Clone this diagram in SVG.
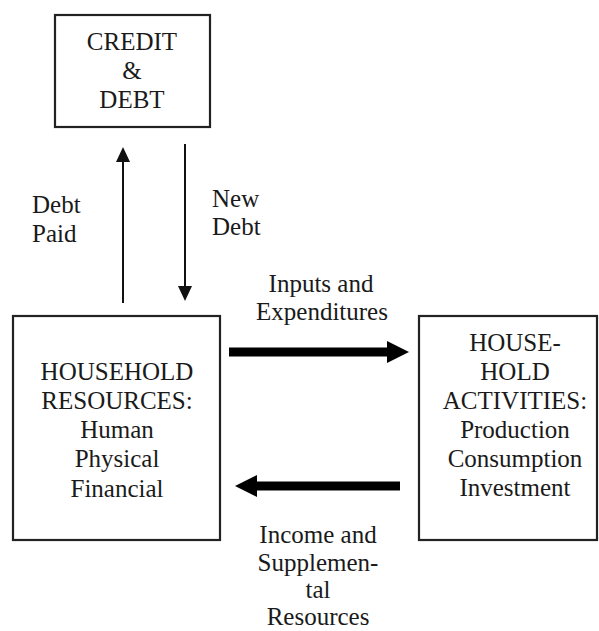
<svg xmlns="http://www.w3.org/2000/svg" width="599" height="631" viewBox="0 0 599 631">
<style>
.box{fill:#fff;stroke:#222;stroke-width:2.2}
.t{font-family:"Liberation Serif","Times New Roman",serif;font-size:25px;fill:#1a1a1a}
.c{text-anchor:middle}
.thin{stroke:#111;stroke-width:2}
.thick{stroke:#000;stroke-width:9}
</style>
<defs>
<marker id="ah" markerUnits="userSpaceOnUse" markerWidth="16" markerHeight="16" refX="1" refY="7" orient="auto">
<path d="M0,0 L15,7 L0,14 z" fill="#111"/>
</marker>
<marker id="ahb" markerUnits="userSpaceOnUse" markerWidth="24" markerHeight="24" refX="1" refY="11" orient="auto">
<path d="M0,0 L22,11 L0,22 z" fill="#000"/>
</marker>
</defs>
<rect width="599" height="631" fill="#fff"/>
<g id="credit">
<rect class="box" x="55" y="15" width="155" height="112"/>
<text class="t c" x="132" y="50">CREDIT</text>
<text class="t c" x="132" y="79">&amp;</text>
<text class="t c" x="132" y="108">DEBT</text>
</g>
<g id="resources">
<rect class="box" x="13" y="316" width="207" height="224"/>
<text class="t c" x="117" y="380">HOUSEHOLD</text>
<text class="t c" x="117" y="409">RESOURCES:</text>
<text class="t c" x="117" y="438">Human</text>
<text class="t c" x="117" y="467">Physical</text>
<text class="t c" x="117" y="497">Financial</text>
</g>
<g id="activities">
<rect class="box" x="419" y="316" width="178" height="224"/>
<text class="t c" x="515" y="351">HOUSE-</text>
<text class="t c" x="515" y="380">HOLD</text>
<text class="t c" x="515" y="409">ACTIVITIES:</text>
<text class="t c" x="515" y="438">Production</text>
<text class="t c" x="515" y="467">Consumption</text>
<text class="t c" x="515" y="496">Investment</text>
</g>
<g id="connectors">
<line class="thin" x1="123" y1="303" x2="123" y2="161" marker-end="url(#ah)"/>
<line class="thin" x1="185" y1="144" x2="185" y2="287" marker-end="url(#ah)"/>
<line class="thick" x1="229" y1="352" x2="388" y2="352" marker-end="url(#ahb)"/>
<line class="thick" x1="400" y1="486" x2="256" y2="486" marker-end="url(#ahb)"/>
</g>
<g id="labels">
<text class="t" x="32" y="213">Debt</text>
<text class="t" x="32" y="242">Paid</text>
<text class="t" x="212" y="207">New</text>
<text class="t" x="212" y="235">Debt</text>
<text class="t c" x="321" y="292">Inputs and</text>
<text class="t c" x="322" y="320">Expenditures</text>
<text class="t c" x="318" y="543">Income and</text>
<text class="t c" x="318" y="571">Supplemen-</text>
<text class="t c" x="318" y="598">tal</text>
<text class="t c" x="318" y="625">Resources</text>
</g>
</svg>
